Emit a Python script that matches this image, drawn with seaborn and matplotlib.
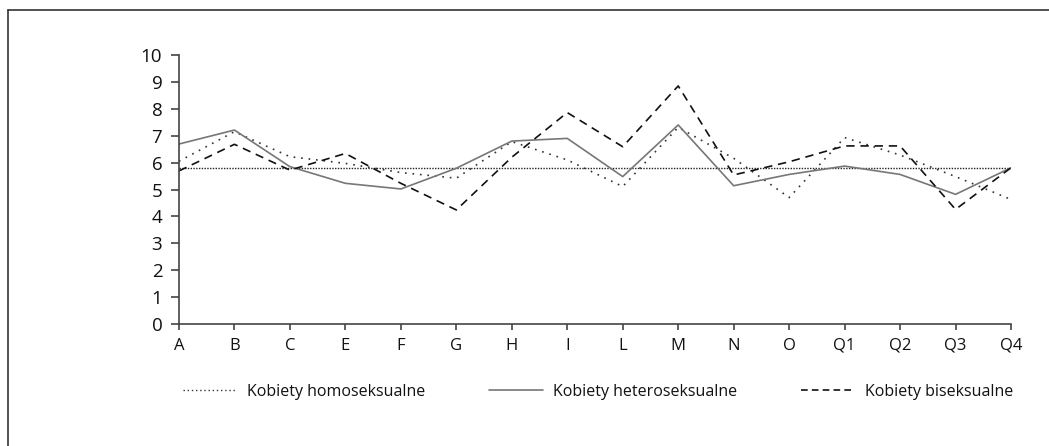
import matplotlib
matplotlib.use("Agg")
import matplotlib.pyplot as plt
from matplotlib.lines import Line2D
import pandas as pd
import seaborn as sns

# data
categories = ["A", "B", "C", "E", "F", "G", "H", "I", "L", "M", "N", "O",
              "Q1", "Q2", "Q3", "Q4"]
homo = [6.05, 7.15, 6.22, 5.97, 5.63, 5.42, 6.78, 6.10, 5.11, 7.31, 6.16,
        4.70, 6.93, 6.28, 5.48, 4.63]
hetero = [6.69, 7.21, 5.85, 5.23, 5.02, 5.79, 6.80, 6.90, 5.48, 7.40, 5.14,
          5.56, 5.87, 5.56, 4.82, 5.81]
bi = [5.69, 6.68, 5.72, 6.34, 5.23, 4.24, 6.20, 7.86, 6.59, 8.85, 5.54,
      6.03, 6.62, 6.62, 4.26, 5.81]
reference_level = 5.8
series_names = ["Kobiety homoseksualne", "Kobiety heteroseksualne",
                "Kobiety biseksualne"]
y_ticks = list(range(0, 11))

sns.set_style("white")
plt.rcParams["font.family"] = ["Open Sans", "DejaVu Sans"]

# long-form table for seaborn
df = pd.DataFrame({
    "kategoria": categories * 3,
    "wartosc": homo + hetero + bi,
    "grupa": [series_names[0]] * len(categories)
             + [series_names[1]] * len(categories)
             + [series_names[2]] * len(categories),
})

fig = plt.figure(figsize=(10.49, 4.46), dpi=100)
ax = fig.add_axes([0.1706, 0.2735, 0.9638 - 0.1706, 0.8767 - 0.2735])

palette = {series_names[0]: "#333333", series_names[1]: "#777777",
           series_names[2]: "#111111"}
dashes = {series_names[0]: (1, 3.5), series_names[1]: "",
          series_names[2]: (5, 3.5)}

sns.lineplot(data=df, x="kategoria", y="wartosc", hue="grupa", style="grupa",
             palette=palette, dashes=dashes, sort=False, linewidth=1.2,
             legend=False, ax=ax)

# horizontal reference line
ax.axhline(reference_level, color="#222222", linewidth=1.0,
           linestyle=(0, (1, 1)), zorder=1)

ax.set_xlim(0, len(categories) - 1)
ax.set_ylim(0, 10)
ax.set_yticks(y_ticks)
ax.set_xlabel("")
ax.set_ylabel("")

for side in ["top", "right"]:
    ax.spines[side].set_visible(False)
for side in ["left", "bottom"]:
    ax.spines[side].set_color("#444444")
    ax.spines[side].set_linewidth(1.2)

ax.tick_params(axis="y", direction="out", length=6, width=1.2,
               color="#444444", labelsize=13.5, pad=6, left=True,
               labelcolor="#111111")
ax.tick_params(axis="x", direction="out", length=4, width=1.2,
               color="#444444", labelsize=12, pad=6, bottom=True,
               labelcolor="#111111")

# legend below the axes
handles = [
    Line2D([], [], color=palette[series_names[0]], linewidth=1.0,
           linestyle=(0, (1, 2))),
    Line2D([], [], color=palette[series_names[1]], linewidth=1.2),
    Line2D([], [], color=palette[series_names[2]], linewidth=1.2,
           linestyle=(0, (4, 2.5))),
]
fig.legend(handles, series_names, loc="center", ncol=3,
           bbox_to_anchor=(0.57, 0.121), frameon=False, fontsize=11.5,
           handlelength=3.4, handletextpad=0.6, columnspacing=4.0,
           labelcolor="#111111")

# partial frame round the figure (top and left only)
fig.add_artist(Line2D([8 / 1049, 8 / 1049], [0, 1 - 10 / 446],
                      transform=fig.transFigure, color="#333333",
                      linewidth=1.2))
fig.add_artist(Line2D([8 / 1049, 1], [1 - 10 / 446, 1 - 10 / 446],
                      transform=fig.transFigure, color="#333333",
                      linewidth=1.2))

fig.savefig("out.png", dpi=100)
